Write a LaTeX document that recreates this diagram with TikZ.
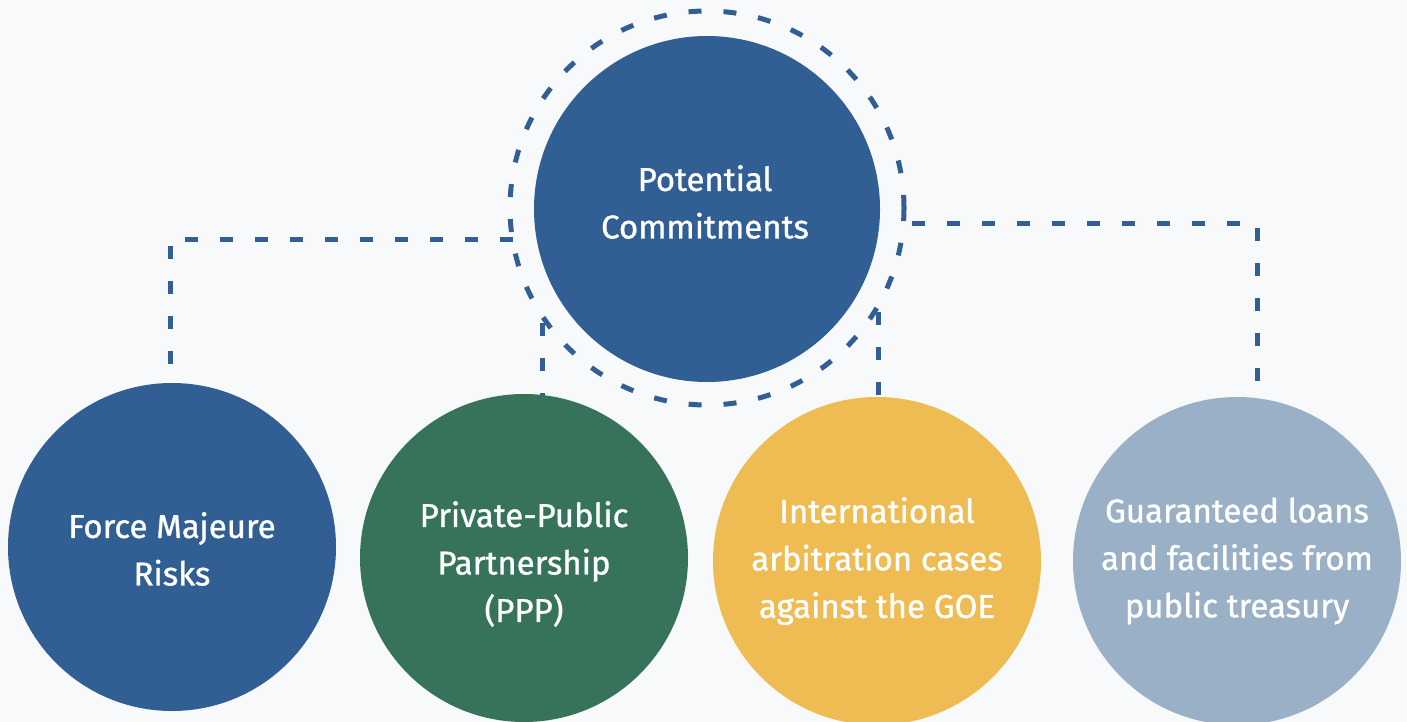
\documentclass[tikz,border=0pt]{standalone}
\usepackage{fontspec}
\setmainfont{Fira Sans}[FakeBold=1]
\definecolor{bg}{HTML}{F7F9FB}
\definecolor{navy}{HTML}{315E93}
\definecolor{pgreen}{HTML}{36735A}
\definecolor{pyellow}{HTML}{EEBC52}
\definecolor{pgray}{HTML}{9AB0C6}
\begin{document}
\begin{tikzpicture}[x=1pt,y=-1pt,
  bubble/.style={circle, inner sep=0pt, minimum size=328pt, draw=none},
  lbl/.style={text=white, align=center, font=\fontsize{33}{47.5}\selectfont},
  conn/.style={draw=navy, line width=5pt, dash pattern=on 13pt off 22pt},
  ringstyle/.style={circle, inner sep=0pt, minimum size=394pt, draw=navy, line width=5pt, dash pattern=on 13pt off 22pt}]
\path[use as bounding box, fill=bg] (0,0) rectangle (1407,722);
% ring and connectors
\node[ringstyle] (ring) at (707,208) {};
\coordinate (lcorner) at (170,239);
\coordinate (lend) at (170,364);
\coordinate (rcorner) at (1257,223);
\coordinate (rend) at (1257,381);
\coordinate (pppend) at (542,406);
\coordinate (pppring) at (542,316);
\coordinate (intend) at (878,395);
\coordinate (intring) at (878,306);
\coordinate (lring) at (513,239);
\coordinate (rring) at (903,223);
\draw[conn] (lend) -- (lcorner) -- (lring);
\draw[conn] (rend) -- (rcorner) -- (rring);
\draw[conn] (pppend) -- (pppring);
\draw[conn] (intend) -- (intring);
% circles
\node[bubble, fill=navy, minimum size=346pt] (center) at (707,209) {};
\node[bubble, fill=navy] (fm) at (172,547) {};
\node[bubble, fill=pgreen] (ppp) at (524,558) {};
\node[bubble, fill=pyellow] (intl) at (877,561) {};
\node[bubble, fill=pgray] (guar) at (1237,561) {};
% labels
\node[lbl] (tcenter) at (705,202) {Potential\\Commitments};
\node[lbl] (tfm) at (172,549) {Force Majeure\\Risks};
\node[lbl] (tppp) at (524,564) {Private-Public\\Partnership\\(PPP)};
\node[lbl] (tintl) at (877,561) {International\\arbitration cases\\against the GOE};
\node[lbl] (tguar) at (1237,561) {Guaranteed loans\\and facilities from\\public treasury};
\end{tikzpicture}
\end{document}
